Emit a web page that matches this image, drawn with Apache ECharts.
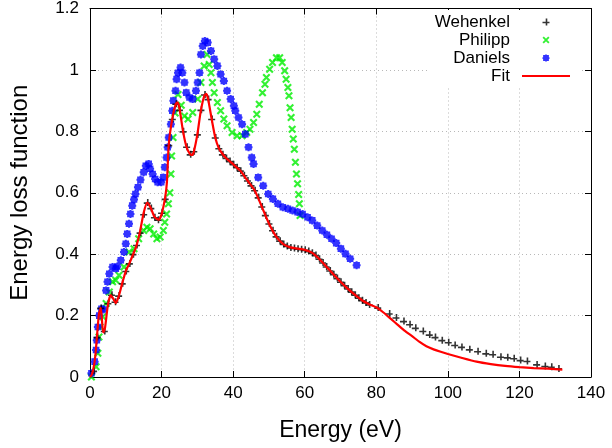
<!DOCTYPE html>
<html>
<head>
<meta charset="utf-8">
<script src="https://cdn.jsdelivr.net/npm/echarts@6/dist/echarts.min.js"></script>
<style>html,body{margin:0;padding:0;background:#fff;}#c{width:612px;height:448px;}</style>
</head>
<body>
<div id="c"></div>
<script>
// ---- data ----
const xTicks = [0, 20, 40, 60, 80, 100, 120, 140];
const yTicks = [0, 0.2, 0.4, 0.6, 0.8, 1, 1.2];

const wehenkelE = [1,2,3,4,5,6,7,8,9,10,11,12,13,14,15,16,17,18,19,20,21,22,23,24,25,26,27,28,29,30,31,32,33,34,35,36,37,38,39,40,41,42,43,44,45,46,47,48,49,50,51,52,53,54,55,56,57,58,59,60,61,62,63,64,65,66,67,68,69,70,71,72,73,74,75,76,77,78,80.4,83.6,85.5,87.6,89.3,90.9,93,94.8,96.4,98.3,100.1,101.9,103.8,106,108.3,110.6,112.5,114.7,116.6,118.4,120.2,122.1,124.8,127.1,128.9,130.9];
const wehenkelV = [0.02,0.13,0.225,0.15,0.24,0.268,0.245,0.265,0.305,0.345,0.37,0.4,0.43,0.47,0.53,0.568,0.55,0.52,0.512,0.535,0.58,0.755,0.84,0.89,0.87,0.8,0.75,0.725,0.735,0.79,0.87,0.92,0.905,0.84,0.78,0.745,0.725,0.713,0.703,0.693,0.683,0.672,0.657,0.64,0.624,0.608,0.585,0.555,0.527,0.5,0.478,0.458,0.444,0.433,0.427,0.422,0.42,0.418,0.416,0.414,0.41,0.405,0.397,0.385,0.373,0.36,0.347,0.335,0.322,0.31,0.299,0.288,0.278,0.268,0.258,0.25,0.243,0.236,0.226,0.207,0.194,0.182,0.172,0.16,0.15,0.138,0.13,0.12,0.113,0.104,0.098,0.09,0.084,0.077,0.074,0.066,0.064,0.061,0.055,0.052,0.041,0.036,0.033,0.028];

const philippE = [0.4,1.7,2.2,2.5,2.8,3.6,4.5,5.4,6.3,7.2,8.1,9.5,10.9,12.3,13.6,15,15.9,16.8,17.8,18.7,19.6,20.5,20.9,21.4,21.9,22.3,22.6,22.8,23.2,23.8,24.6,25.5,26.4,27.4,28.7,30.1,31,31.9,32.7,33.3,33.8,34.2,34.7,35.6,36.5,37.4,38.3,39.7,41.1,42.5,43.8,44.7,45.7,46.6,47.3,48.2,48.9,49.3,50.2,51,52.1,53,53.7,54.4,54.8,55.3,55.6,55.9,56.2,56.5,56.8,57.1,57.4,57.7,58,58.3,58.5,58.7];
const philippV = [0,0.033,0.077,0.13,0.163,0.196,0.239,0.277,0.31,0.315,0.331,0.358,0.407,0.418,0.45,0.477,0.488,0.483,0.466,0.45,0.456,0.477,0.504,0.531,0.564,0.6,0.661,0.72,0.78,0.86,0.92,0.885,0.85,0.84,0.861,0.905,0.959,1.013,1.05,1.018,0.991,0.959,0.926,0.894,0.867,0.84,0.818,0.796,0.786,0.786,0.796,0.807,0.829,0.856,0.888,0.926,0.953,0.975,1.002,1.024,1.04,1.04,1.024,0.997,0.97,0.943,0.916,0.877,0.845,0.807,0.775,0.742,0.699,0.661,0.629,0.594,0.564,0.526];

const danielsE = [0.4,1.3,1.7,1.9,2.2,2.6,3.2,3.8,4.5,4.9,5.4,6.3,7.2,7.6,8.6,9.5,10,10.4,10.9,11.3,11.8,12.3,12.7,13.4,14.1,15,15.6,16.4,16.8,17.5,18.2,18.9,19.9,20.5,20.9,21.4,21.7,22,22.6,23,23.3,23.9,24.2,24.6,25.3,25.8,26.4,26.9,27.8,28.7,29.6,30.1,30.6,31,31.5,32.1,32.9,33.8,34.7,35.6,36.5,37.4,38.3,39.3,40.2,40.6,41.5,42.5,43.4,44.3,45.2,45.7,47,48.4,49.8,51.1,52.5,53.9,55.3,56.6,58,59.4,60.8,62.1,63.5,64.9,66.2,67.5,68.8,70.1,71.4,72.7,74.5];
const danielsV = [0.012,0.05,0.088,0.12,0.163,0.2,0.222,0.22,0.282,0.31,0.336,0.358,0.353,0.36,0.38,0.407,0.434,0.466,0.499,0.531,0.558,0.578,0.596,0.618,0.642,0.667,0.688,0.694,0.678,0.661,0.645,0.634,0.634,0.65,0.683,0.715,0.748,0.78,0.823,0.867,0.9,0.932,0.97,0.991,1.008,0.991,0.959,0.926,0.91,0.905,0.932,0.959,0.991,1.05,1.078,1.094,1.089,1.062,1.035,1.013,0.986,0.964,0.932,0.905,0.883,0.867,0.845,0.823,0.791,0.748,0.715,0.694,0.65,0.623,0.596,0.58,0.564,0.553,0.548,0.542,0.537,0.531,0.52,0.51,0.493,0.477,0.463,0.45,0.436,0.418,0.401,0.385,0.364];

const fitE = [0,0.5,1,1.5,2,2.5,3,3.3,3.7,4.2,5,5.8,6.5,7.2,8,9,10,11,12,13,14,15,16,17,18,19.2,20,21,21.5,22,23,24,24.5,25,26,27,28,28.5,29,30,31,32,32.5,33,34,35,36,37,38,40,42,44,46,48,50,52,54,56,58,60,62,64,66,68,70,72,74,76,78,80,82,84,86,88,90,92,94,96,98,100,104,108,112,116,120,124,128,132];
const fitV = [0,0.008,0.03,0.07,0.14,0.205,0.225,0.19,0.145,0.16,0.235,0.267,0.255,0.241,0.262,0.305,0.345,0.37,0.398,0.428,0.475,0.535,0.568,0.55,0.522,0.512,0.53,0.585,0.635,0.755,0.842,0.89,0.894,0.875,0.8,0.748,0.725,0.723,0.733,0.79,0.87,0.918,0.922,0.905,0.84,0.78,0.745,0.727,0.713,0.693,0.672,0.64,0.608,0.555,0.5,0.458,0.433,0.422,0.418,0.414,0.405,0.385,0.36,0.335,0.31,0.288,0.268,0.25,0.237,0.227,0.21,0.19,0.17,0.15,0.133,0.115,0.1,0.09,0.082,0.075,0.062,0.05,0.042,0.036,0.032,0.029,0.027,0.024];

const seriesNames = ['Wehenkel', 'Philipp', 'Daniels', 'Fit'];

// ---- chart ----
const pairs = (xs, ys) => xs.map((x, i) => [x, ys[i]]);
const plusPath = 'path://M0,3.2H7V4.8H0Z M3.2,0H4.8V7H3.2Z';
const xPath = 'path://M0,1.5L1.5,0L8,6.5L6.5,8Z M6.5,0L8,1.5L1.5,8L0,6.5Z';
const starPath = 'path://M0.7,0.7H7.3V7.3H0.7Z M0,3H8V5H0Z M3,0H5V8H3Z';
const linePath = 'path://M0,0H48V2H0Z';

const chart = echarts.init(document.getElementById('c'), null, {renderer: 'canvas'});
const font = 'Liberation Sans, Arial, Helvetica, sans-serif';
const grid = {left: 87, right: 21, top: 8, bottom: 71};
const splitStyle = {show: true, lineStyle: {color: '#b8b8b8', type: [1, 3], width: 1}};

chart.setOption({
  animation: false,
  backgroundColor: '#fff',
  textStyle: {fontFamily: font},
  grid: grid,
  legend: {
    orient: 'vertical',
    right: 32, top: 10,
    align: 'right',
    padding: [3, 10, 3, 5],
    itemGap: 0,
    itemWidth: 48, itemHeight: 7,
    backgroundColor: '#fff',
    textStyle: {fontSize: 17, color: '#000', lineHeight: 18, padding: [0, 7, 0, 0], fontFamily: font},
    selectedMode: false,
    data: [
      {name: seriesNames[0], icon: plusPath},
      {name: seriesNames[1], icon: xPath},
      {name: seriesNames[2], icon: starPath},
      {name: seriesNames[3], icon: linePath, itemStyle: {borderWidth: 0}}
    ]
  },
  xAxis: [{
    type: 'value', min: 0, max: 140, interval: 20,
    name: 'Energy (eV)', nameLocation: 'middle', nameGap: 42,
    nameTextStyle: {fontSize: 23, color: '#000', fontFamily: font},
    axisLine: {show: true, onZero: false, lineStyle: {color: '#000', width: 1}},
    axisTick: {show: true, inside: true, length: 6, lineStyle: {color: '#000'}},
    axisLabel: {fontSize: 17, color: '#000', margin: 8, fontFamily: font,
      formatter: v => xTicks.includes(v) ? String(v) : ''},
    splitLine: splitStyle
  }, {
    type: 'value', min: 0, max: 140, interval: 20, position: 'top',
    axisLine: {show: true, onZero: false, lineStyle: {color: '#000', width: 1}},
    axisTick: {show: true, inside: true, length: 6, lineStyle: {color: '#000'}},
    axisLabel: {show: false}, splitLine: {show: false}
  }],
  yAxis: [{
    type: 'value', min: 0, max: 1.2, interval: 0.2,
    name: 'Energy loss function', nameLocation: 'middle', nameGap: 58, nameRotate: 90,
    nameTextStyle: {fontSize: 24, color: '#000', fontFamily: font},
    axisLine: {show: true, onZero: false, lineStyle: {color: '#000', width: 1}},
    axisTick: {show: true, inside: true, length: 6, lineStyle: {color: '#000'}},
    axisLabel: {fontSize: 17, color: '#000', margin: 11, fontFamily: font,
      formatter: v => { const t = yTicks.find(k => Math.abs(k - v) < 1e-9); return t === undefined ? '' : String(t); }},
    splitLine: splitStyle
  }, {
    type: 'value', min: 0, max: 1.2, interval: 0.2, position: 'right',
    axisLine: {show: true, onZero: false, lineStyle: {color: '#000', width: 1}},
    axisTick: {show: true, inside: true, length: 6, lineStyle: {color: '#000'}},
    axisLabel: {show: false}, splitLine: {show: false}
  }],
  series: [
    {name: seriesNames[0], type: 'scatter', data: pairs(wehenkelE, wehenkelV),
     symbol: plusPath, symbolSize: 7, itemStyle: {color: '#000'}, z: 3},
    {name: seriesNames[1], type: 'scatter', data: pairs(philippE, philippV),
     symbol: xPath, symbolSize: 8, itemStyle: {color: '#00ee00'}, z: 2},
    {name: seriesNames[2], type: 'scatter', data: pairs(danielsE, danielsV),
     symbol: starPath, symbolSize: 8, itemStyle: {color: '#0000ff'}, z: 2},
    {name: seriesNames[3], type: 'line', data: pairs(fitE, fitV), smooth: 0.2,
     symbol: 'none', showSymbol: false, lineStyle: {color: '#ff0000', width: 2.2},
     itemStyle: {color: '#ff0000', borderWidth: 0}, z: 4}
  ]
});
</script>
</body>
</html>
